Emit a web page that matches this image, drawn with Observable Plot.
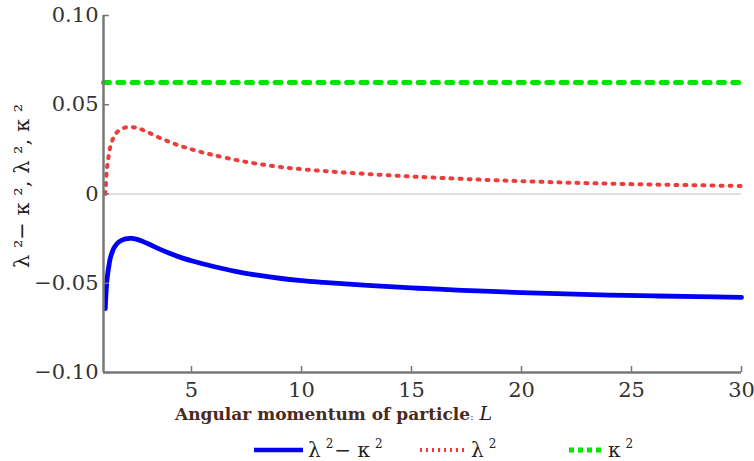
<!DOCTYPE html>
<html><head><meta charset="utf-8">
<script src="https://cdn.jsdelivr.net/npm/d3@7"></script>
<script src="https://cdn.jsdelivr.net/npm/@observablehq/plot@0.6"></script>
<style>
body{margin:0;background:#fff;}
#wrap{position:relative;width:754px;height:461px;overflow:hidden;background:#fff;}
#xtitle{position:absolute;left:175px;top:403px;font-family:'DejaVu Serif',serif;font-weight:bold;font-size:17px;color:#4a2a1e;white-space:nowrap;line-height:20px;}
#xtitle i{font-family:'DejaVu Serif',serif;font-weight:normal;font-size:19px;color:#2a1a14;}
.leg{position:absolute;top:438px;font-family:'DejaVu Serif',serif;font-size:20px;color:#222;white-space:nowrap;line-height:24px;}
.leg sup{font-size:12px;vertical-align:0;position:relative;top:-9px;margin-left:5px;margin-right:1px;}
.sw{position:absolute;top:446px;}
</style></head><body><div id="wrap"></div>
<script>
const L = [1.08, 1.12, 1.16, 1.2, 1.25, 1.3, 1.4, 1.5, 1.7, 2.0, 2.3, 2.6, 3.0, 3.5, 4.0, 4.5, 5.0, 5.5, 6, 7, 8, 9, 10, 11, 12, 13, 14, 15, 16, 18, 20, 22, 24, 26, 28, 30];
const lambda2 = [0.0, 0.008, 0.0145, 0.0185, 0.0225, 0.026, 0.030, 0.0327, 0.0356, 0.0373, 0.0375, 0.0367, 0.0347, 0.0318, 0.0292, 0.0269, 0.0250, 0.0233, 0.0218, 0.0191, 0.0169, 0.0152, 0.0139, 0.0129, 0.0120, 0.0112, 0.0105, 0.0098, 0.0092, 0.0081, 0.0072, 0.0064, 0.0058, 0.0053, 0.0049, 0.0045];
const lambda2MinusKappa2 = [-0.0642, -0.0544, -0.0479, -0.0439, -0.0399, -0.0364, -0.0324, -0.0297, -0.0268, -0.0251, -0.0249, -0.0257, -0.0277, -0.0306, -0.0332, -0.0355, -0.0374, -0.0391, -0.0406, -0.0433, -0.0455, -0.0472, -0.0485, -0.0495, -0.0504, -0.0512, -0.0519, -0.0526, -0.0532, -0.0543, -0.0552, -0.0560, -0.0566, -0.0571, -0.0575, -0.0579];
const kappaL = [1, 30];
const kappa2 = [0.0624, 0.0624];
const xTicks = [5, 10, 15, 20, 25, 30];
const xTickLabels = ["5", "10", "15", "20", "25", "30"];
const yTicks = [-0.1, -0.05, 0, 0.05, 0.1];
const yTickLabels = ["−0.10", "−0.05", "0", "0.05", "0.10"];
const yTitle = "λ ²− κ ², λ ², κ ²";

const blueData = L.map((l, i) => ({L: l, v: lambda2MinusKappa2[i]}));
const redData = L.map((l, i) => ({L: l, v: lambda2[i]}));
const greenData = kappaL.map((l, i) => ({L: l, v: kappa2[i]}));

const serif = "'DejaVu Serif', serif";
const axisGray = "#777";
const plot = Plot.plot({
  width: 754, height: 402,
  marginLeft: 103, marginRight: 13, marginTop: 15, marginBottom: 30,
  x: {domain: [1, 30]},
  y: {domain: [-0.1, 0.1]},
  style: {fontFamily: serif, fontSize: "21px", color: "#333", background: "white", overflow: "visible"},
  marks: [
    Plot.ruleY([0], {stroke: "#d6d6d6", strokeWidth: 1.5}),
    Plot.line(greenData, {x: "L", y: "v", stroke: "#00e400", strokeWidth: 5, strokeDasharray: "6,8.3"}),
    Plot.line(redData, {x: "L", y: "v", stroke: "#ee3b3b", strokeWidth: 4, strokeDasharray: "2,7", curve: "catmull-rom"}),
    Plot.line(blueData, {x: "L", y: "v", stroke: "#0000f5", strokeWidth: 4.8, curve: "catmull-rom"}),
    Plot.ruleX([1], {stroke: axisGray, strokeWidth: 2.5}),
    Plot.ruleY([-0.1], {stroke: axisGray, strokeWidth: 2.5}),
    Plot.axisX({ticks: xTicks, tickSize: 0, tickPadding: 10, label: null, tickFormat: d => xTickLabels[xTicks.indexOf(d)], fill: "#333", fontFamily: serif, fontSize: 21}),
    Plot.axisX({ticks: xTicks, tickSize: -6, tickFormat: () => "", label: null, stroke: axisGray, strokeWidth: 1.5}),
    Plot.axisY({ticks: yTicks, tickSize: 0, tickPadding: 5, label: null, tickFormat: d => yTickLabels[yTicks.indexOf(d)], fill: "#333", fontFamily: serif, fontSize: 21}),
    Plot.axisY({ticks: yTicks, tickSize: -6, tickFormat: () => "", label: null, stroke: axisGray, strokeWidth: 1.5}),
    Plot.text([yTitle], {text: d => d, frameAnchor: "left", dx: -81, dy: -8, rotate: -90, textAnchor: "middle", fontSize: 21, fill: "#222", fontFamily: serif})
  ]
});

const wrap = document.getElementById("wrap");
wrap.appendChild(plot);

const xt = document.createElement("div");
xt.id = "xtitle";
xt.innerHTML = 'Angular momentum of particle<span style="font-size:10px;font-weight:normal">:</span> <i>L</i>';
wrap.appendChild(xt);

const legendItems = [
  {sx: 254, ex: 303, tx: 308, html: 'λ<sup>2</sup>− κ<sup>2</sup>', stroke: "#0000f5", w: 4.5, dash: null},
  {sx: 420, ex: 468, tx: 471, html: 'λ<sup>2</sup>', stroke: "#ee3b3b", w: 4, dash: "2,4"},
  {sx: 569, ex: 605, tx: 608, html: 'κ<sup>2</sup>', stroke: "#00e400", w: 5, dash: "5,4"}
];
legendItems.forEach(it => {
  const svg = d3.create("svg").attr("class", "sw").attr("width", it.ex - it.sx).attr("height", 8)
    .style("left", it.sx + "px");
  const ln = svg.append("line").attr("x1", 0).attr("x2", it.ex - it.sx).attr("y1", 4).attr("y2", 4)
    .attr("stroke", it.stroke).attr("stroke-width", it.w);
  if (it.dash) ln.attr("stroke-dasharray", it.dash);
  wrap.appendChild(svg.node());
  const t = document.createElement("div");
  t.className = "leg";
  t.style.left = it.tx + "px";
  t.innerHTML = it.html;
  wrap.appendChild(t);
});
</script>
</body></html>
